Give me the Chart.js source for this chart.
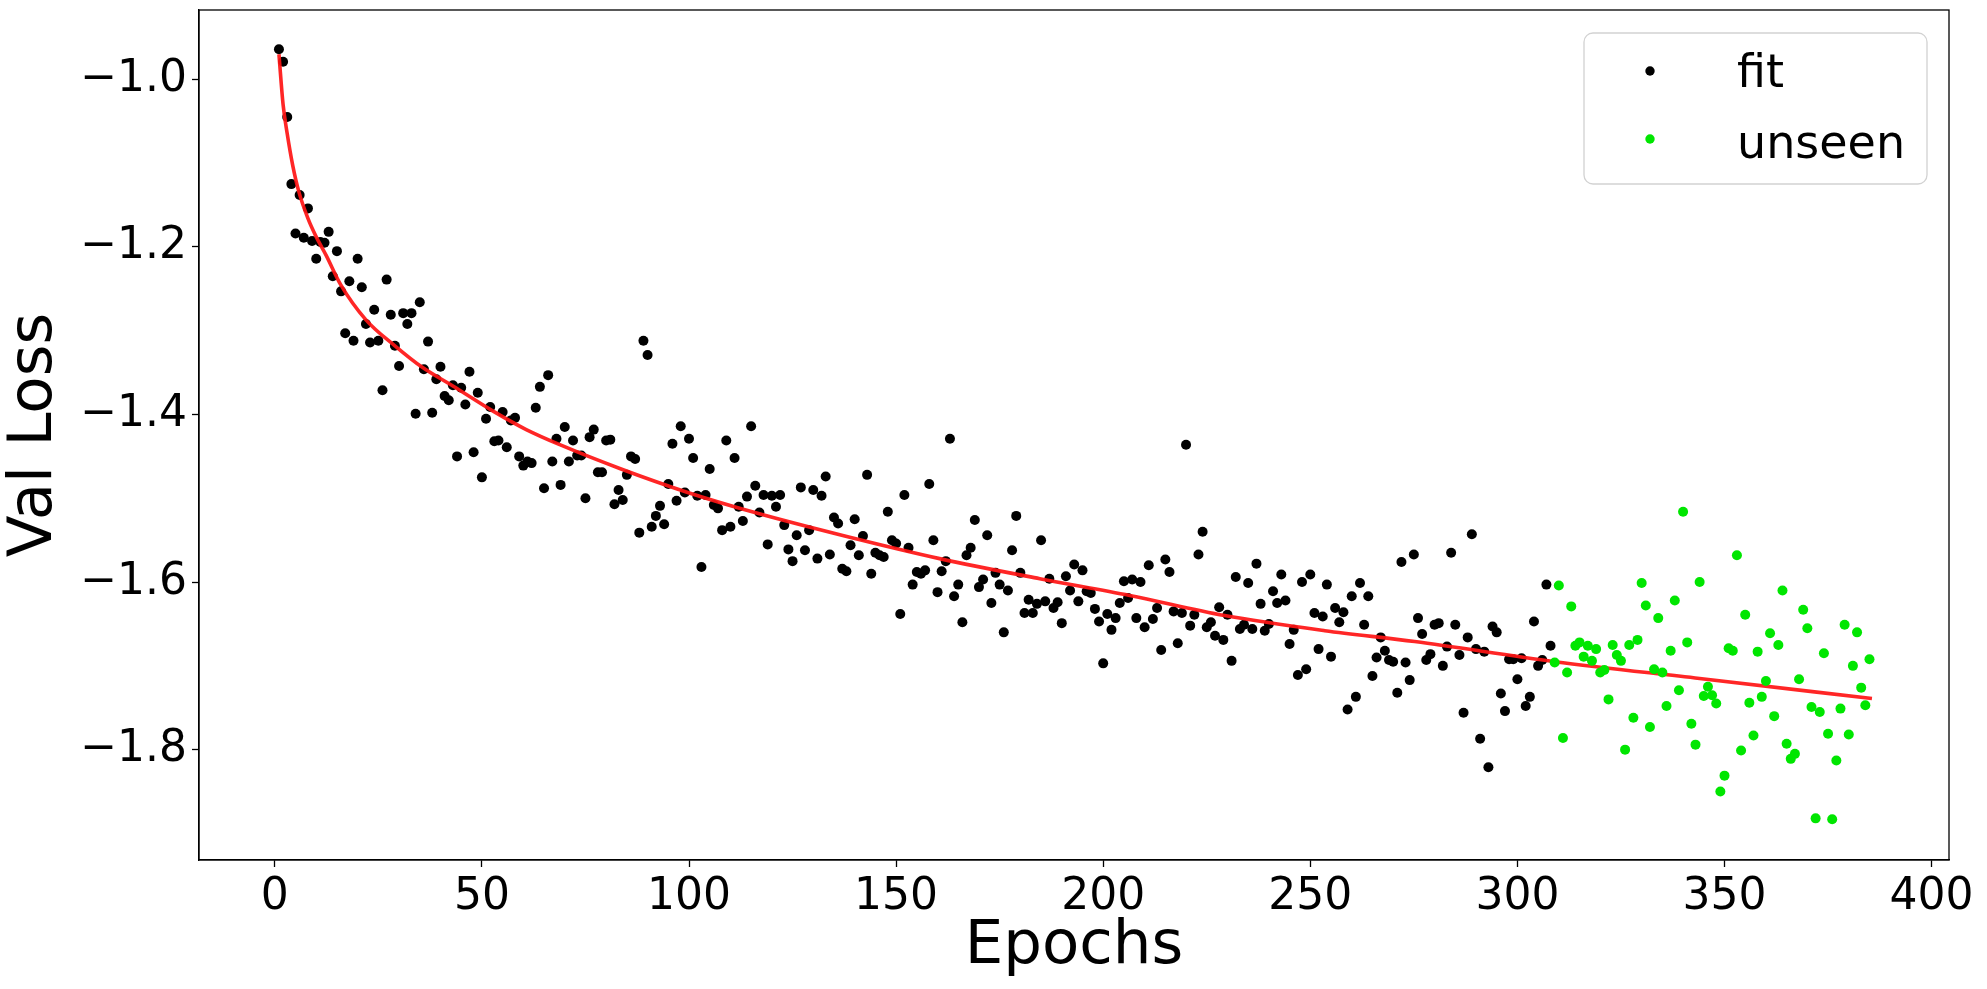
<!DOCTYPE html>
<html>
<head>
<meta charset="utf-8">
<title>Val Loss vs Epochs</title>
<script src="https://cdn.jsdelivr.net/npm/chart.js@4.4.1/dist/chart.umd.min.js"></script>
<style>
  html, body { margin: 0; padding: 0; background: #fff; }
  #wrap { width: 1987px; height: 989px; }
</style>
</head>
<body>
<div id="wrap"><canvas id="chart" width="1987" height="989"></canvas></div>
<script>
// val loss per epoch, black points (epochs 1..308)
const fitFirstEpoch = 1;
const fitLoss = [
  -0.964, -0.979, -1.045, -1.125, -1.184, -1.138, -1.189, -1.154, -1.193, -1.214,
  -1.194, -1.195, -1.182, -1.235, -1.205, -1.253, -1.303, -1.241, -1.312, -1.214,
  -1.248, -1.292, -1.314, -1.275, -1.312, -1.371, -1.239, -1.281, -1.318, -1.342,
  -1.279, -1.292, -1.279, -1.399, -1.266, -1.346, -1.313, -1.398, -1.358, -1.343,
  -1.378, -1.383, -1.365, -1.450, -1.368, -1.388, -1.349, -1.445, -1.374, -1.475,
  -1.405, -1.391, -1.432, -1.431, -1.397, -1.439, -1.407, -1.404, -1.450, -1.461,
  -1.456, -1.458, -1.392, -1.367, -1.488, -1.353, -1.456, -1.429, -1.484, -1.415,
  -1.456, -1.431, -1.449, -1.449, -1.500, -1.427, -1.418, -1.469, -1.469, -1.431,
  -1.430, -1.507, -1.490, -1.502, -1.472, -1.450, -1.453, -1.541, -1.312, -1.329,
  -1.534, -1.521, -1.509, -1.531, -1.483, -1.435, -1.503, -1.414, -1.493, -1.429,
  -1.452, -1.497, -1.582, -1.496, -1.465, -1.508, -1.512, -1.538, -1.431, -1.534,
  -1.452, -1.510, -1.527, -1.498, -1.414, -1.485, -1.517, -1.496, -1.555, -1.497,
  -1.510, -1.496, -1.532, -1.561, -1.575, -1.544, -1.487, -1.562, -1.538, -1.490,
  -1.572, -1.497, -1.474, -1.567, -1.523, -1.530, -1.584, -1.587, -1.556, -1.525,
  -1.568, -1.545, -1.472, -1.590, -1.565, -1.568, -1.570, -1.516, -1.550, -1.554,
  -1.638, -1.496, -1.559, -1.603, -1.588, -1.590, -1.586, -1.483, -1.550, -1.612,
  -1.587, -1.575, -1.429, -1.617, -1.603, -1.648, -1.568, -1.559, -1.526, -1.606,
  -1.597, -1.544, -1.625, -1.589, -1.603, -1.660, -1.610, -1.562, -1.521, -1.589,
  -1.637, -1.621, -1.637, -1.626, -1.550, -1.623, -1.596, -1.631, -1.624, -1.649,
  -1.593, -1.610, -1.579, -1.623, -1.586, -1.611, -1.613, -1.632, -1.647, -1.697,
  -1.638, -1.657, -1.643, -1.625, -1.599, -1.619, -1.597, -1.643, -1.600, -1.654,
  -1.580, -1.644, -1.631, -1.681, -1.573, -1.588, -1.635, -1.673, -1.637, -1.436,
  -1.652, -1.639, -1.567, -1.540, -1.654, -1.648, -1.664, -1.630, -1.669, -1.639,
  -1.694, -1.594, -1.656, -1.651, -1.601, -1.656, -1.578, -1.626, -1.658, -1.650,
  -1.611, -1.625, -1.591, -1.622, -1.674, -1.657, -1.711, -1.600, -1.704, -1.591,
  -1.637, -1.680, -1.641, -1.603, -1.689, -1.631, -1.648, -1.636, -1.752, -1.617,
  -1.737, -1.601, -1.651, -1.617, -1.712, -1.690, -1.666, -1.682, -1.693, -1.695,
  -1.732, -1.576, -1.696, -1.717, -1.567, -1.643, -1.662, -1.693, -1.686, -1.651,
  -1.649, -1.700, -1.677, -1.565, -1.651, -1.687, -1.756, -1.666, -1.543, -1.680,
  -1.787, -1.683, -1.821, -1.653, -1.660, -1.733, -1.754, -1.692, -1.692, -1.716,
  -1.691, -1.748, -1.737, -1.647, -1.700, -1.693, -1.603, -1.676
];

// green points (epochs 309..385)
const unseenFirstEpoch = 309;
const unseenLoss = [
  -1.696, -1.604, -1.786, -1.708, -1.629, -1.676, -1.672, -1.689, -1.676, -1.694,
  -1.680, -1.708, -1.705, -1.740, -1.675, -1.687, -1.694, -1.800, -1.675, -1.762,
  -1.669, -1.601, -1.628, -1.773, -1.704, -1.643, -1.708, -1.748, -1.682, -1.622,
  -1.729, -1.516, -1.672, -1.769, -1.794, -1.600, -1.736, -1.725, -1.735, -1.745,
  -1.850, -1.831, -1.679, -1.682, -1.568, -1.801, -1.639, -1.744, -1.783, -1.683,
  -1.737, -1.718, -1.661, -1.760, -1.675, -1.610, -1.793, -1.811, -1.805, -1.716,
  -1.633, -1.655, -1.749, -1.882, -1.755, -1.685, -1.781, -1.883, -1.813, -1.751,
  -1.651, -1.782, -1.700, -1.660, -1.726, -1.747, -1.692
];

// red fitted curve
const curveEpochs = [1, 2, 3, 4.3, 5.8, 8, 10, 12.4, 15.9, 22, 29, 35.7, 43, 52.7, 60.7, 68.8,
  83.6, 99.7, 115.9, 137.6, 160.5, 184.7, 206.4, 229.3, 253.5, 275.2, 309, 344, 385.6];
const curveLoss = [-0.970, -1.030, -1.065, -1.102, -1.134, -1.166, -1.188, -1.210, -1.245,
  -1.287, -1.318, -1.344, -1.366, -1.396, -1.418, -1.436, -1.465, -1.493, -1.517, -1.545,
  -1.572, -1.596, -1.616, -1.640, -1.658, -1.671, -1.695, -1.715, -1.739];

const xTicks = [0, 50, 100, 150, 200, 250, 300, 350, 400];
const yTicks = [-1.8, -1.6, -1.4, -1.2, -1.0];

const FONT = "'DejaVu Sans', sans-serif";

// closed box around the plot like matplotlib spines
const framePlugin = {
  id: 'frame',
  afterDraw(chart) {
    const { ctx, chartArea: a } = chart;
    ctx.save();
    ctx.strokeStyle = '#000';
    ctx.lineWidth = 1.3;
    ctx.strokeRect(a.left, a.top, a.right - a.left, a.bottom - a.top);
    ctx.restore();
  }
};

// legend box in the upper right
const legendBox = {
  id: 'legendBox',
  afterDraw(chart) {
    const ctx = chart.ctx;
    const x = 1584, y = 33, w = 343, h = 151, r = 9;
    ctx.save();
    ctx.beginPath();
    ctx.moveTo(x + r, y);
    ctx.arcTo(x + w, y, x + w, y + h, r);
    ctx.arcTo(x + w, y + h, x, y + h, r);
    ctx.arcTo(x, y + h, x, y, r);
    ctx.arcTo(x, y, x + w, y, r);
    ctx.closePath();
    ctx.fillStyle = 'rgba(255,255,255,0.8)';
    ctx.fill();
    ctx.strokeStyle = '#d2d2d2';
    ctx.lineWidth = 1.3;
    ctx.stroke();

    const items = chart.data.datasets.filter(d => d.inLegend);
    const markerY = [71, 139];
    const textY = [87, 158];
    ctx.font = '46px ' + FONT;
    ctx.textAlign = 'left';
    ctx.textBaseline = 'alphabetic';
    items.forEach((d, i) => {
      ctx.beginPath();
      ctx.arc(1650, markerY[i], 4.7, 0, Math.PI * 2);
      ctx.fillStyle = d.backgroundColor;
      ctx.fill();
      ctx.fillStyle = '#000';
      ctx.fillText(d.label, 1737, textY[i]);
    });
    ctx.restore();
  }
};

const ctx = document.getElementById('chart').getContext('2d');
new Chart(ctx, {
  type: 'scatter',
  data: {
    datasets: [
      {
        label: 'fit',
        inLegend: true,
        data: fitLoss.map((v, i) => ({ x: fitFirstEpoch + i, y: v })),
        backgroundColor: '#000000',
        borderWidth: 0,
        pointRadius: 5,
        order: 3
      },
      {
        label: 'curve',
        data: curveEpochs.map((e, i) => ({ x: e, y: curveLoss[i] })),
        showLine: true,
        borderColor: 'rgba(255,20,20,0.92)',
        borderWidth: 3.6,
        pointRadius: 0,
        cubicInterpolationMode: 'monotone',
        fill: false,
        order: 2
      },
      {
        label: 'unseen',
        inLegend: true,
        data: unseenLoss.map((v, i) => ({ x: unseenFirstEpoch + i, y: v })),
        backgroundColor: '#00e600',
        borderWidth: 0,
        pointRadius: 5,
        order: 1
      }
    ]
  },
  options: {
    responsive: false,
    animation: false,
    devicePixelRatio: 1,
    layout: { autoPadding: false, padding: { top: 10, right: 38, left: 0, bottom: 0 } },
    plugins: {
      legend: { display: false },
      tooltip: { enabled: false }
    },
    scales: {
      x: {
        type: 'linear',
        min: -18.3,
        max: 404.2,
        afterBuildTicks: s => { s.ticks = xTicks.map(v => ({ value: v })); },
        afterFit: s => { s.height = 129; s.paddingLeft = 0; s.paddingRight = 0; },
        grid: { drawOnChartArea: false, drawTicks: true, tickLength: 7, tickWidth: 1.3, tickColor: '#000' },
        border: { display: true, color: '#000', width: 1.3 },
        ticks: {
          font: { family: FONT, size: 44 },
          color: '#000',
          padding: 4,
          maxRotation: 0,
          autoSkip: false,
          callback: v => String(v)
        },
        title: {
          display: true,
          text: 'Epochs',
          color: '#000',
          font: { family: FONT, size: 61, lineHeight: 1.2 },
          padding: { top: 0, bottom: 5 }
        }
      },
      y: {
        type: 'linear',
        min: -1.9317,
        max: -0.9172,
        afterBuildTicks: s => { s.ticks = yTicks.map(v => ({ value: v })); },
        afterFit: s => { s.width = 199; s.paddingTop = 0; s.paddingBottom = 0; },
        grid: { drawOnChartArea: false, drawTicks: true, tickLength: 7, tickWidth: 1.3, tickColor: '#000' },
        border: { display: true, color: '#000', width: 1.3 },
        ticks: {
          font: { family: FONT, size: 44 },
          color: '#000',
          padding: 5,
          autoSkip: false,
          callback: v => (v < 0 ? '\u2212' : '') + Math.abs(v).toFixed(1)
        },
        title: {
          display: true,
          text: 'Val Loss',
          color: '#000',
          font: { family: FONT, size: 61, lineHeight: 1 },
          padding: { top: 5, bottom: 0 }
        }
      }
    }
  },
  plugins: [framePlugin, legendBox]
});
</script>
</body>
</html>
